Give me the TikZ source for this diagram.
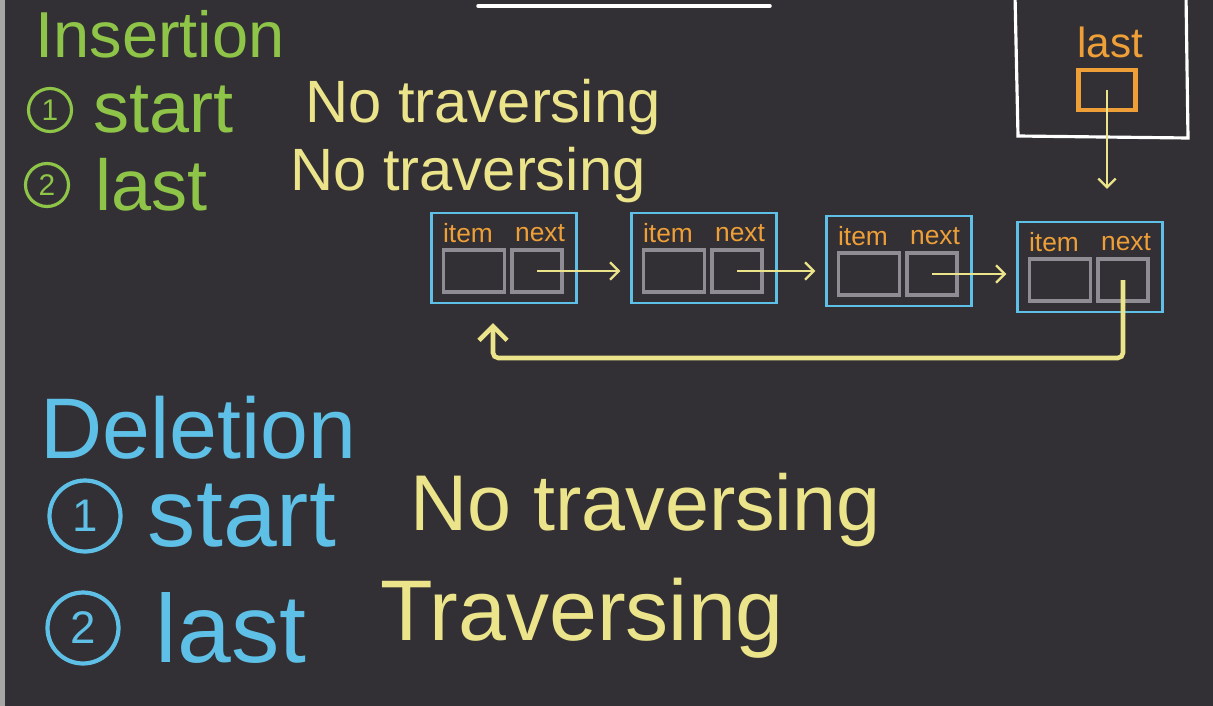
\documentclass[tikz,border=0pt]{standalone}
\usepackage{fontspec}
\setmainfont{Liberation Sans}
\usetikzlibrary{arrows.meta, positioning}

\definecolor{board}{HTML}{323034}
\definecolor{chalkgreen}{HTML}{8EC447}
\definecolor{chalkyellow}{HTML}{ECE48A}
\definecolor{chalkblue}{HTML}{5EC0E6}
\definecolor{chalkorange}{HTML}{EE9F38}
\definecolor{chalkgray}{HTML}{8F8D93}

\newcommand{\fsize}[1]{\fontsize{#1}{#1}\selectfont}

\begin{document}
\begin{tikzpicture}[x=0.02cm, y=-0.02cm,
                    inshead/.style={text=chalkgreen, font=\fsize{37pt}, anchor=base west, inner sep=0pt},
                    insnum/.style={circle, draw=chalkgreen, line width=1.8pt, text=chalkgreen, font=\fsize{17pt}, minimum size=0.86cm, inner sep=0pt},
                    instext/.style={text=chalkgreen, font=\fsize{41pt}, inner sep=0pt},
                    delhead/.style={text=chalkblue, font=\fsize{49pt}, anchor=base west, inner sep=0pt},
                    delnum/.style={circle, draw=chalkblue, line width=2.4pt, text=chalkblue, font=\fsize{26pt}, minimum size=1.42cm, inner sep=0pt},
                    deltext/.style={text=chalkblue, font=\fsize{55pt}, inner sep=0pt},
                    note/.style={text=chalkyellow, font=\fsize{34pt}, anchor=base west, inner sep=0pt},
                    bignote/.style={text=chalkyellow, font=\fsize{45pt}, anchor=base west, inner sep=0pt},
                    listnode/.style={rectangle, draw=chalkblue, line width=1.2pt, minimum width=2.9cm, minimum height=1.8cm},
                    cell/.style={rectangle, draw=chalkgray, line width=2.2pt, minimum height=0.84cm},
                    fieldname/.style={text=chalkorange, font=\fsize{15pt}, inner sep=0pt},
                    ptrcell/.style={rectangle, draw=chalkorange, line width=2.8pt, minimum width=1.14cm, minimum height=0.8cm},
                    link/.style={draw=chalkyellow, line width=1.3pt, -{Straight Barb[length=5pt, width=10pt]}},
                    backlink/.style={draw=chalkyellow, line width=2.6pt, rounded corners=3pt, -{Straight Barb[length=8pt, width=16pt]}}
                ]
    % Board
    \useasboundingbox (0,0) rectangle (1213,706);
    \fill[board] (0,0) rectangle (1213,706);
    \fill[gray!70] (0,0) rectangle (5,706);
    \draw[white, line width=2pt, line cap=round] (478,6) -- (770,6);

    % Insertion
    \node[inshead] (insertion) at (35,58) {Insertion};
    \node[insnum] (insone) at (50,110) {1};
    \node[instext, right=0.4cm of insone] (insstart) {start};
    \node[insnum] (instwo) at (47,185) {2};
    \node[instext, right=0.5cm of instwo] (inslast) {last};
    \node[note] (insnoteone) at (305,122) {No traversing};
    \node[note] (insnotetwo) at (290,190) {No traversing};

    % Deletion
    \node[delhead] (deletion) at (40,458) {Deletion};
    \node[delnum] (delone) at (85,516) {1};
    \node[deltext, right=0.5cm of delone] (delstart) {start};
    \node[delnum] (deltwo) at (83,628) {2};
    \node[deltext, right=0.7cm of deltwo] (dellast) {last};
    \node[bignote] (delnoteone) at (410,530) {No traversing};
    \node[bignote, font=\fsize{49pt}] (delnotetwo) at (380,640) {Traversing};

    % Pointer to the last node
    \draw[white, line width=1.8pt] (1015,-5) -- (1018,136) -- (1188,138) -- (1186,-5);
    \node[ptrcell] (lastptr) at (1107,90) {};
    \node[fieldname, font=\fsize{24pt}] (lasttag) at (1110,42) {last};

    % Place nodes
    \foreach \i/\x/\y in {1/504/258, 2/704/258, 3/899/261, 4/1090/267} {
        \node[listnode] (node\i) at (\x,\y) {};
        \node[cell, minimum width=1.22cm] (item\i) at ([shift={(-30,13)}]node\i.center) {};
        \node[cell, minimum width=1cm] (next\i) at ([shift={(33,13)}]node\i.center) {};
        \node[fieldname] (itemtag\i) at ([shift={(-36,-25)}]node\i.center) {item};
        \node[fieldname] (nexttag\i) at ([shift={(36,-25)}]node\i.center) {next};
    }

    % Draw edges
    \foreach \i/\j in {1/2, 2/3, 3/4}
        \path[link, shorten >=0.2cm] (next\i.center) -- (next\i.center -| node\j.west);
    \path[link, shorten >=0.64cm] (lastptr.center) -- (lastptr.center |- node4.north);
    \coordinate (loopturn) at (493,358);
    \path[backlink, shorten >=0.38cm] (next4.center) |- (loopturn) -- (loopturn |- node1.south);
\end{tikzpicture}
\end{document}
